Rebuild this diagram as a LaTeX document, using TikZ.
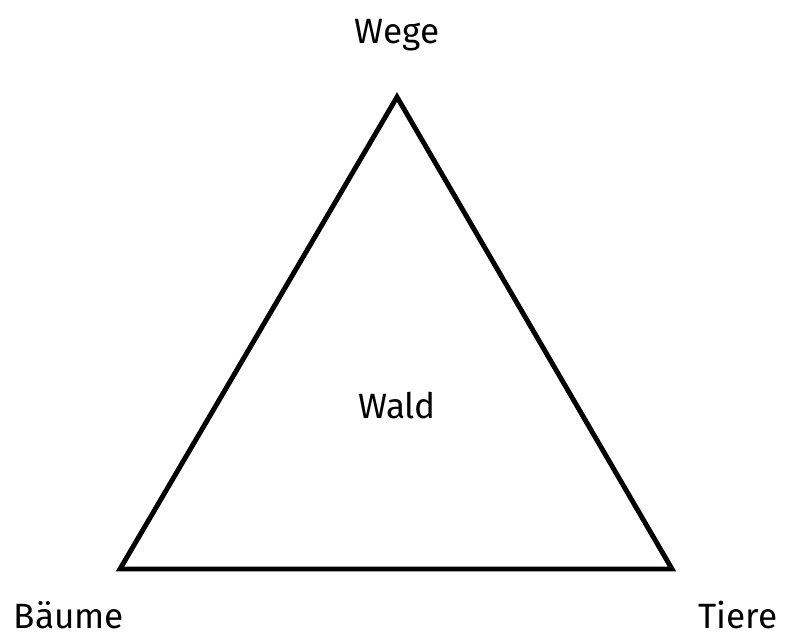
\documentclass[tikz,border=0pt]{standalone}
\usepackage{fontspec}
\setmainfont{Fira Sans}
\usepackage{tikz}
\usetikzlibrary{positioning}

\begin{document}
\begin{tikzpicture}[x=0.02cm,y=-0.02cm,font=\fontsize{20}{24}\selectfont,
  label/.style={anchor=base,inner sep=0pt},
  edge/.style={line width=2.8pt,line join=miter}]
\useasboundingbox (0,0) rectangle (786,635);
\coordinate (top) at (397,97);
\coordinate (left) at (120,569);
\coordinate (right) at (672,569);
\draw[edge] (top) -- (left) -- (right) -- cycle;
\node[label] (wege) at (397,44) {Wege};
\node[label] (wald) at (397,418) {Wald};
\node[label] (baeume) at (69,628) {Bäume};
\node[label] (tiere) at (738,628) {Tiere};
\end{tikzpicture}
\end{document}
